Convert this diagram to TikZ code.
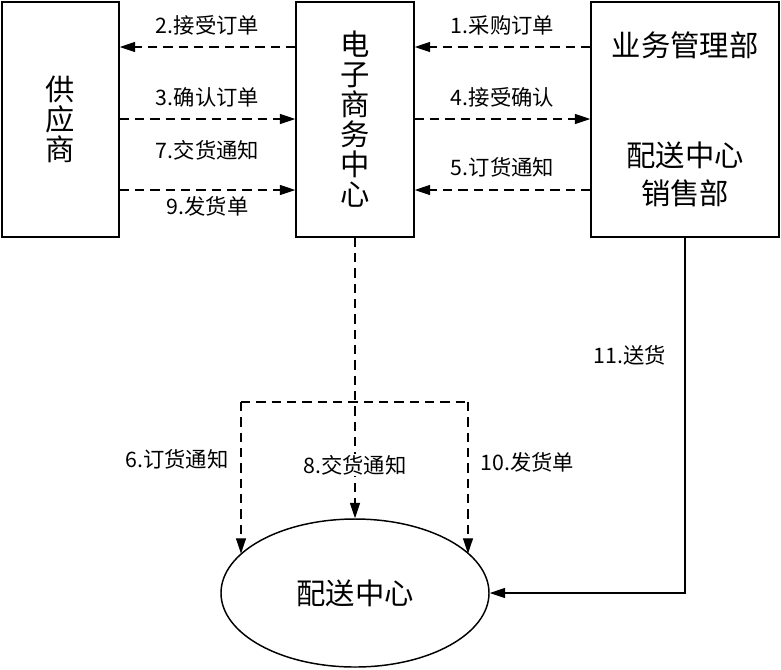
\documentclass[tikz,border=0pt]{standalone}
\usepackage{fontspec}
\setmainfont{Noto Sans CJK SC}
\usetikzlibrary{arrows.meta,shapes.geometric}
\tikzset{
    unit/.style={draw,line width=1.1pt,minimum height=176.25pt,inner sep=0pt,
        align=center,font=\fontsize{22}{22.5}\selectfont},
    lbl/.style={font=\fontsize{16}{18}\selectfont,inner sep=1pt},
    dline/.style={line width=0.95pt,dash pattern=on 7pt off 4.5pt},
    flow/.style={dline,-{Triangle[length=11.5pt,width=7.5pt]}},
    feed/.style={line width=0.95pt,-{Triangle[length=11.5pt,width=7.5pt]}}
}
\begin{document}
\begin{tikzpicture}[x=0.75pt,y=-0.75pt]
    \useasboundingbox (0,0) rectangle (781,669);
    \node[unit,minimum width=87.75pt] (sup) at (60.5,119.5) {供\\应\\商};
    \node[unit,minimum width=88.5pt] (ec) at (355,119.5) {电\\子\\商\\务\\中\\心};
    \node[unit,minimum width=141pt] (ops) at (685,119.5) {};
    \node[font=\fontsize{22}{22.5}\selectfont] (mgmt) at (685,45) {业务管理部};
    \node[font=\fontsize{22}{28.5}\selectfont,align=center] (sales) at (685,174)
        {配送中心\\销售部};
    \node[draw,ellipse,line width=1.1pt,minimum width=201pt,minimum height=111pt,
        inner sep=0pt,font=\fontsize{22}{22.5}\selectfont] (dc) at (355,593) {配送中心};
    % top row
    \draw[flow] (ec.west |- 0,47) -- (sup.east |- 0,47)
        node[lbl,pos=0.5,yshift=16.5pt] {2.接受订单};
    \draw[flow] (ops.west |- 0,47) -- (ec.east |- 0,47)
        node[lbl,pos=0.5,yshift=16pt] {1.采购订单};
    % middle row
    \draw[flow] (sup.east |- 0,119) -- (ec.west |- 0,119)
        node[lbl,pos=0.5,yshift=16.5pt] {3.确认订单};
    \draw[flow] (ec.east |- 0,119) -- (ops.west |- 0,119)
        node[lbl,pos=0.5,yshift=16.5pt] {4.接受确认};
    % bottom row
    \draw[flow] (sup.east |- 0,190) -- (ec.west |- 0,190)
        node[lbl,pos=0.5,yshift=30pt] {7.交货通知}
        node[lbl,pos=0.5,yshift=-12pt] {9.发货单};
    \draw[flow] (ops.west |- 0,190) -- (ec.east |- 0,190)
        node[lbl,pos=0.5,yshift=17pt] {5.订货通知};
    % down to the centre
    \coordinate (sl) at (241,402);
    \coordinate (sr) at (468,402);
    \draw[dline] (sl) -- (sr);
    \draw[flow] (sl) -- (sl |- dc.161.2)
        node[lbl,pos=0.38,left=8pt] {6.订货通知};
    \draw[flow] (sr) -- (sr |- dc.19.4)
        node[lbl,pos=0.4,right=8pt] {10.发货单};
    \draw[flow] (ec.south) -- (dc.north)
        node[lbl,pos=0.81,fill=white] {8.交货通知};
    \draw[feed] (ops.south) -- (ops.south |- dc.east)
        node[lbl,pos=0.33,left=13pt] {11.送货} -- (dc.east);
\end{tikzpicture}
\end{document}
